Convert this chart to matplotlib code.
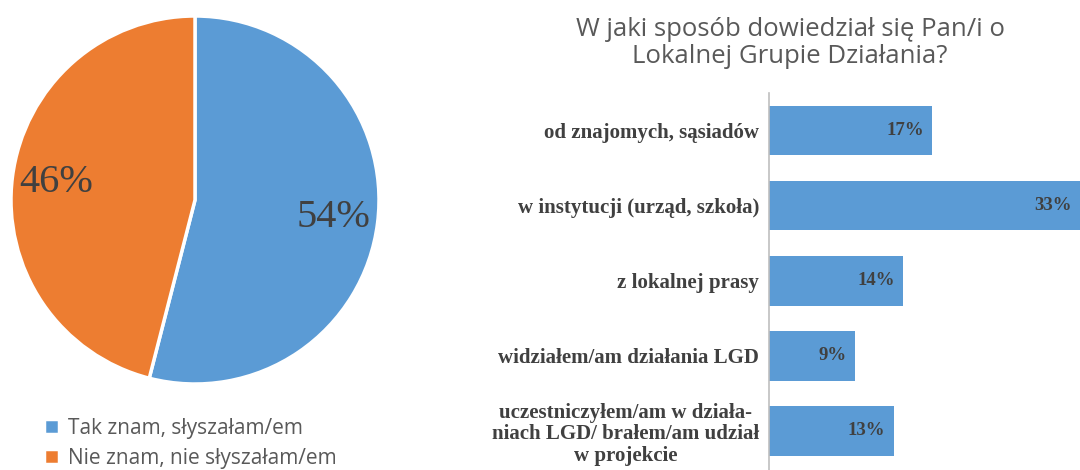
import numpy as np
import matplotlib.pyplot as plt

plt.rcParams['font.serif'] = ['Liberation Serif', 'DejaVu Serif']

# pie data
pie_labels = ['Tak znam, słyszałam/em', 'Nie znam, nie słyszałam/em']
pie_values = [54, 46]
pie_colors = ['#5B9BD5', '#ED7D31']

# bar data
bar_labels = ['od znajomych, sąsiadów',
              'w instytucji (urząd, szkoła)',
              'z lokalnej prasy',
              'widziałem/am działania LGD',
              'uczestniczyłem/am w działa-\nniach LGD/ brałem/am udział\nw projekcie']
bar_values = [17, 33, 14, 9, 13]

W, H = 1080, 470
fig = plt.figure(figsize=(W / 100, H / 100), dpi=100)

# ---- pie ----
cx, cy, r = 195, 200, 184
ax1 = fig.add_axes([(cx - r) / W, (H - cy - r) / H, 2 * r / W, 2 * r / H])
wedges, texts = ax1.pie(pie_values, colors=pie_colors, startangle=90, counterclock=False,
                        wedgeprops=dict(edgecolor='white', linewidth=2.5))
for w, v in zip(wedges, pie_values):
    ang = np.deg2rad((w.theta1 + w.theta2) / 2)
    ax1.text(0.76 * np.cos(ang), 0.76 * np.sin(ang), f'{v}%', ha='center', va='center',
             fontsize=29, color='#404040', fontname='Liberation Serif')
ax1.set_xlim(-1, 1)
ax1.set_ylim(-1, 1)
ax1.set_aspect('equal')

fig.legend(wedges, pie_labels, loc='upper left', bbox_to_anchor=(44 / W, 1 - 418 / H),
           frameon=False, prop=dict(family='Open Sans', size=15), labelcolor='#595959',
           handlelength=0.7, handleheight=0.7, handletextpad=0.45, labelspacing=0.42,
           borderpad=0, borderaxespad=0)

# ---- bars ----
ax2 = fig.add_axes([769 / W, 0, (W - 769) / W, (H - 93) / H])
y = list(range(len(bar_values)))
bars = ax2.barh(y, bar_values, height=0.66, color='#5B9BD5')
ax2.set_xlim(0, 32.4)
ax2.set_ylim(len(bar_values) - 0.5 + 0.02, -0.5)
ax2.set_yticks(y)
ax2.set_yticklabels(bar_labels, fontname='Liberation Serif', fontweight='bold', fontsize=15,
                    color='#404040', multialignment='center', linespacing=1.1)
ax2.tick_params(axis='y', length=0, pad=7)
ax2.set_xticks([])
for s in ['top', 'right', 'bottom']:
    ax2.spines[s].set_visible(False)
ax2.spines['left'].set_color('#BFBFBF')
ax2.spines['left'].set_linewidth(1.2)
for b, v in zip(bars, bar_values):
    ax2.annotate(f'{v}%', xy=(min(v, 32.4), b.get_y() + b.get_height() / 2),
                 xytext=(-6, 0), textcoords='offset points', ha='right', va='center',
                 fontname='Liberation Serif', fontweight='bold', fontsize=13.5, color='#404040')

fig.text(790 / W, 1 - 43 / H, 'W jaki sposób dowiedział się Pan/i o\nLokalnej Grupie Działania?',
         ha='center', va='center', family='Open Sans', fontsize=18.5, color='#595959', linespacing=1.15)

fig.savefig('out.png', dpi=100)
